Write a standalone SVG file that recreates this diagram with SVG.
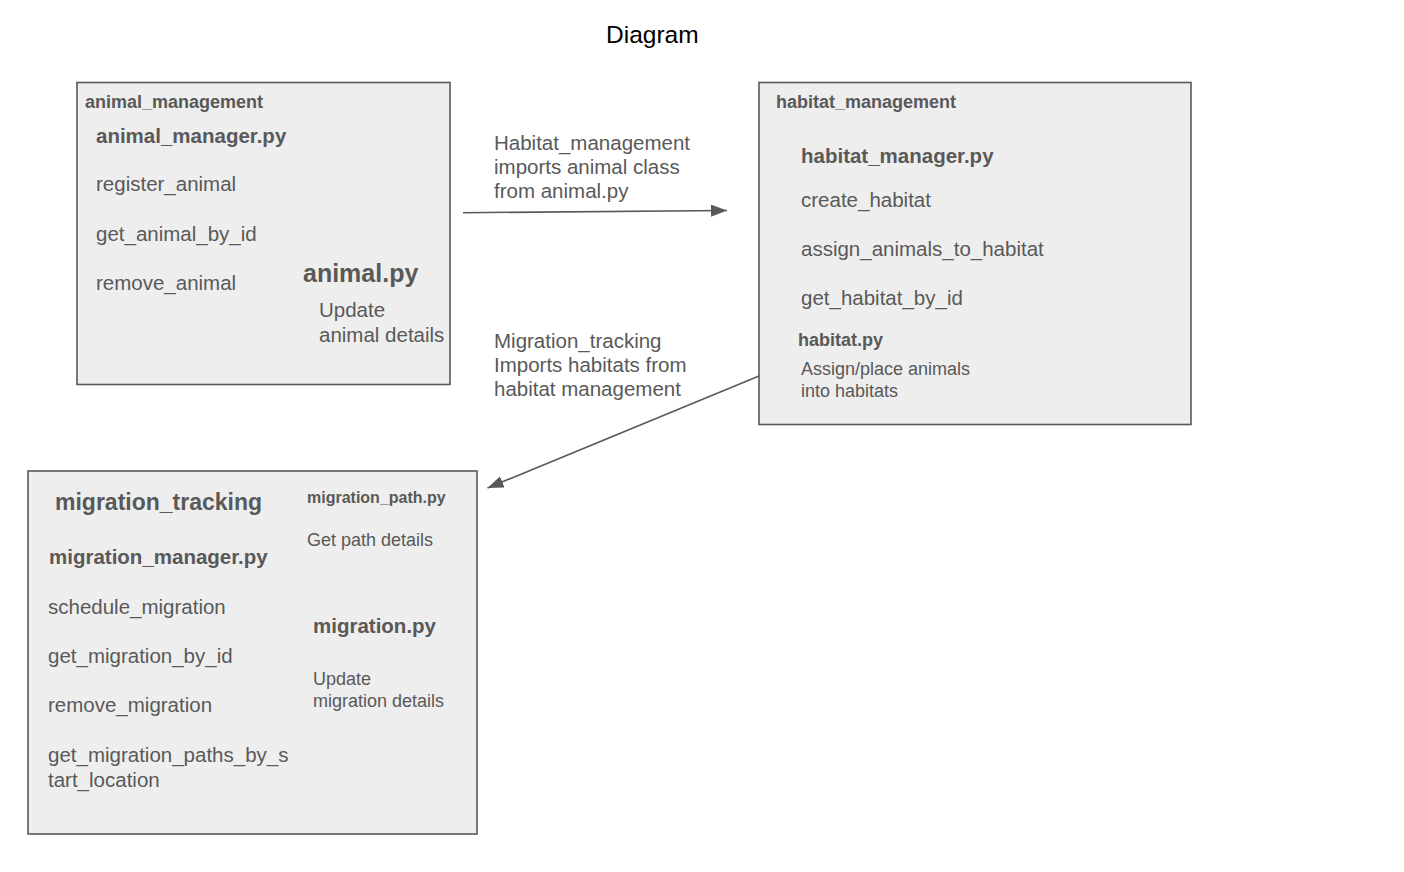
<svg xmlns="http://www.w3.org/2000/svg" width="1404" height="872" viewBox="0 0 1404 872">
<defs>
<style>
.box{fill:#eeeeee;stroke:#595959;stroke-width:1.6}
text{font-family:"Liberation Sans",Arial,sans-serif;fill:#595959}
.b{font-weight:bold}
.r{font-size:20.5px}
.s{font-size:18px}
.edge{fill:none;stroke:#595959;stroke-width:1.6}
</style>
<marker id="ah" viewBox="0 0 16 12" refX="16" refY="6" markerWidth="16" markerHeight="12" markerUnits="userSpaceOnUse" orient="auto">
<path d="M0,0 L16,6 L0,12 Z" fill="#595959"/>
</marker>
</defs>
<rect width="1404" height="872" fill="#ffffff"/>
<text x="606" y="43" style="font-size:24.5px;fill:#000000">Diagram</text>

<g id="animal_management">
<rect class="box" x="77" y="82.5" width="373" height="302"/>
<text class="b s" x="85" y="108">animal_management</text>
<text class="b r" x="96" y="143">animal_manager.py</text>
<text class="r" x="96" y="191">register_animal</text>
<text class="r" x="96" y="241">get_animal_by_id</text>
<text class="r" x="96" y="290">remove_animal</text>
<text class="b" x="303" y="282" style="font-size:25px">animal.py</text>
<text class="r" x="319" y="317">Update</text>
<text class="r" x="319" y="342">animal details</text>
</g>

<g id="habitat_management">
<rect class="box" x="759" y="82.5" width="432" height="342"/>
<text class="b s" x="776" y="108">habitat_management</text>
<text class="b r" x="801" y="163">habitat_manager.py</text>
<text class="r" x="801" y="207">create_habitat</text>
<text class="r" x="801" y="256">assign_animals_to_habitat</text>
<text class="r" x="801" y="305">get_habitat_by_id</text>
<text class="b s" x="798" y="346">habitat.py</text>
<text class="s" x="801" y="375">Assign/place animals</text>
<text class="s" x="801" y="397">into habitats</text>
</g>

<g id="migration_tracking">
<rect class="box" x="28" y="471" width="449" height="363"/>
<text class="b" x="55" y="510" style="font-size:23px">migration_tracking</text>
<text class="b r" x="49" y="564">migration_manager.py</text>
<text class="r" x="48" y="614">schedule_migration</text>
<text class="r" x="48" y="663">get_migration_by_id</text>
<text class="r" x="48" y="712">remove_migration</text>
<text class="r" x="48" y="762">get_migration_paths_by_s</text>
<text class="r" x="48" y="787">tart_location</text>
<text class="b" x="307" y="503" style="font-size:16px">migration_path.py</text>
<text class="s" x="307" y="546">Get path details</text>
<text class="b r" x="313" y="633">migration.py</text>
<text class="s" x="313" y="685">Update</text>
<text class="s" x="313" y="707">migration details</text>
</g>

<g id="connectors">
<line class="edge" x1="463" y1="212.7" x2="727" y2="210.5" marker-end="url(#ah)"/>
<line class="edge" x1="759" y1="376" x2="487.5" y2="488" marker-end="url(#ah)"/>
<text class="r" x="494" y="150">Habitat_management</text>
<text class="r" x="494" y="174">imports animal class</text>
<text class="r" x="494" y="198">from animal.py</text>
<text class="r" x="494" y="348">Migration_tracking</text>
<text class="r" x="494" y="372">Imports habitats from</text>
<text class="r" x="494" y="396">habitat management</text>
</g>
</svg>
